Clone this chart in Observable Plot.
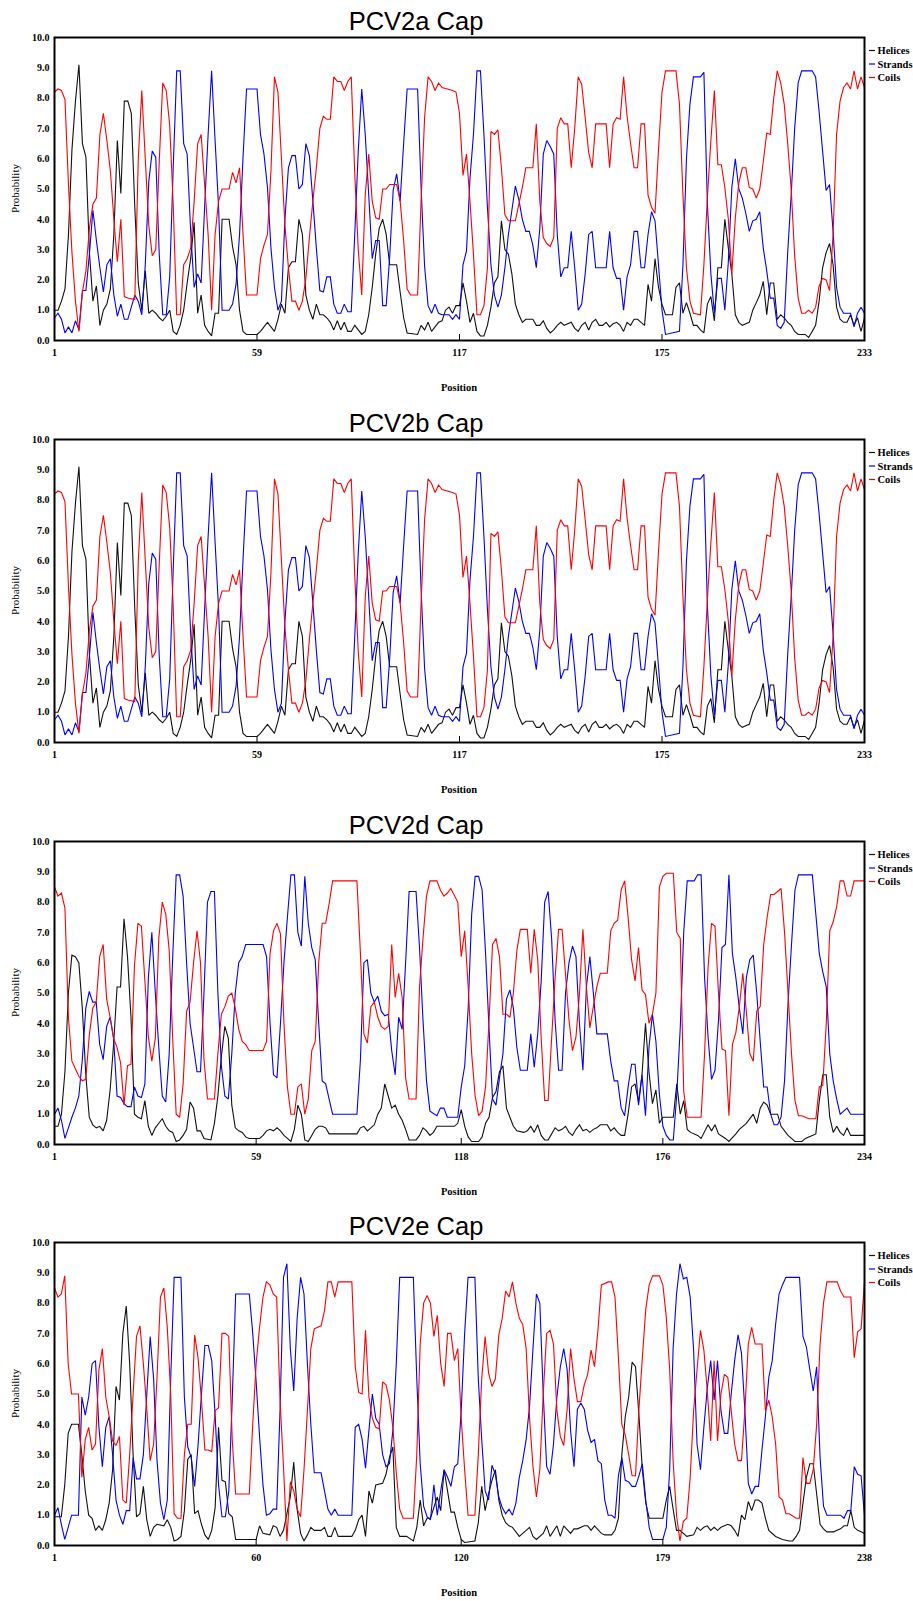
<!DOCTYPE html>
<html><head><meta charset="utf-8">
<script src="https://cdn.jsdelivr.net/npm/d3@7"></script>
<script src="https://cdn.jsdelivr.net/npm/@observablehq/plot@0.6"></script>
<style>
html,body{margin:0;padding:0;background:#fff;overflow:hidden;}
.panel{position:relative;width:913px;}
.panel svg.overlay{position:absolute;left:0;top:0;pointer-events:none;}
</style></head><body><div id="root"></div>
<script>
const titles = ["PCV2a Cap", "PCV2b Cap", "PCV2d Cap", "PCV2e Cap"];
const seriesNames = ["Helices", "Strands", "Coils"];
const seriesColors = ["#111111", "#0000ff", "#ff0000"];
const yTicks = [0,1,2,3,4,5,6,7,8,9,10];
const aTicks = [1,59,117,175,233];
const bTicks = [1,59,117,175,233];
const dTicks = [1,59,118,176,234];
const eTicks = [1,60,120,179,238];

// PCV2a
const aHelices = [[1,1.0],[2,1.0],[3,1.3],[4,1.7],[5,3.5],[6,6.3],[7,7.9],[8,9.1],[9,6.5],[10,6.05],[11,2.9],[12,1.3],[13,1.8],[14,0.5],[15,1.0],[16,1.2],[17,1.7],[18,3.5],[19,6.6],[20,4.85],[21,7.9],[22,7.9],[23,7.5],[24,4.4],[25,1.9],[26,1.0],[27,2.3],[28,0.9],[29,1.0],[30,0.9],[31,0.75],[32,0.65],[33,0.8],[34,1.0],[35,0.3],[36,0.2],[37,0.5],[38,1.0],[39,1.9],[40,2.7],[41,3.9],[42,0.9],[43,1.5],[44,0.5],[45,0.3],[46,0.15],[47,0.9],[48,0.9],[49,4.0],[50,4.0],[51,4.0],[52,3.1],[53,2.5],[54,1.0],[55,0.3],[56,0.2],[59,0.2],[60,0.3],[61,0.45],[62,0.6],[63,0.45],[64,0.3],[65,0.7],[66,1.2],[67,0.9],[68,2.4],[69,2.6],[70,2.6],[71,4.0],[72,3.5],[73,1.5],[74,1.0],[75,0.7],[76,1.2],[77,0.85],[78,0.85],[79,0.75],[80,0.6],[81,0.35],[82,0.65],[83,0.35],[84,0.6],[85,0.3],[86,0.3],[87,0.5],[88,0.35],[89,0.2],[90,0.3],[91,0.85],[92,1.75],[93,2.85],[94,3.7],[95,4.0],[96,3.5],[97,2.5],[99,2.5],[100,1.6],[101,0.75],[102,0.25],[105,0.2],[106,0.5],[107,0.35],[108,0.6],[109,0.3],[110,0.45],[111,0.6],[112,0.65],[113,1.0],[114,1.1],[115,0.9],[116,1.15],[117,1.15],[118,1.9],[119,1.3],[120,0.6],[121,0.9],[122,0.3],[123,0.15],[124,0.15],[125,0.5],[126,1.1],[127,1.9],[128,2.1],[129,3.95],[130,3.0],[131,2.85],[132,2.2],[133,1.2],[134,0.85],[135,0.6],[136,0.7],[138,0.7],[139,0.5],[140,0.5],[141,0.65],[142,0.4],[143,0.25],[144,0.35],[145,0.5],[146,0.6],[147,0.5],[148,0.55],[149,0.6],[150,0.4],[151,0.3],[152,0.5],[153,0.6],[154,0.35],[155,0.6],[156,0.7],[157,0.5],[158,0.5],[159,0.6],[160,0.45],[161,0.55],[162,0.6],[163,0.5],[164,0.3],[165,0.6],[166,0.5],[167,0.7],[168,0.7],[169,0.6],[170,0.5],[171,1.85],[172,1.3],[173,2.7],[174,1.75],[175,1.2],[176,0.85],[178,0.85],[179,1.75],[180,1.9],[181,0.9],[182,1.25],[183,0.9],[184,0.5],[185,0.5],[186,0.35],[187,0.25],[188,1.2],[189,1.45],[190,0.65],[191,2.4],[192,2.4],[193,4.0],[194,3.05],[195,2.2],[196,0.85],[197,0.6],[198,0.5],[199,0.55],[200,0.6],[201,1.0],[202,1.25],[203,1.5],[204,1.95],[205,0.85],[206,1.9],[207,1.9],[208,0.7],[209,0.85],[210,0.75],[211,0.6],[212,0.5],[213,0.3],[214,0.2],[216,0.2],[217,0.1],[218,0.3],[219,0.5],[220,1.3],[221,2.4],[222,2.9],[223,3.2],[224,2.5],[225,1.1],[226,0.7],[227,0.6],[228,0.6],[229,0.85],[230,0.5],[231,0.75],[232,0.3],[233,0.75]];
const aStrands = [[1,0.75],[2,0.9],[3,0.7],[4,0.25],[5,0.45],[6,0.25],[7,0.65],[8,0.35],[9,1.65],[10,1.65],[11,2.85],[12,4.3],[13,3.3],[14,2.4],[15,1.6],[16,2.5],[17,2.7],[18,1.5],[19,0.8],[20,1.2],[21,0.7],[22,0.7],[23,1.1],[24,1.5],[25,1.3],[26,0.85],[27,2.5],[28,5.25],[29,6.25],[30,6.05],[31,2.85],[32,0.85],[33,0.85],[34,2.1],[35,5.7],[36,8.9],[37,8.9],[38,6.5],[39,6.15],[40,3.6],[41,1.75],[42,2.2],[43,1.9],[44,4.4],[45,6.8],[46,8.9],[47,6.6],[48,4.4],[49,1.0],[51,1.0],[52,1.2],[53,1.85],[54,3.5],[55,6.05],[56,8.3],[59,8.3],[60,6.8],[61,6.15],[62,5.05],[63,3.05],[64,1.75],[65,1.0],[66,1.3],[67,4.0],[68,5.7],[69,6.1],[70,6.1],[71,5.0],[72,5.15],[73,6.5],[74,6.1],[75,4.6],[76,3.05],[77,1.65],[78,1.6],[79,2.1],[80,2.1],[81,1.2],[82,0.9],[83,0.9],[84,1.2],[85,0.95],[86,0.95],[87,3.5],[88,6.25],[89,8.3],[90,6.8],[91,4.8],[92,2.7],[93,3.3],[94,3.3],[95,1.15],[96,1.15],[97,2.75],[98,4.95],[99,5.5],[100,4.6],[101,6.5],[102,8.3],[105,8.3],[106,5.05],[107,2.45],[108,1.15],[109,0.9],[110,1.2],[111,0.9],[112,0.85],[114,0.85],[115,0.7],[116,0.85],[117,0.7],[118,2.5],[119,2.95],[120,5.35],[121,6.8],[122,8.9],[123,8.9],[124,6.8],[125,4.4],[126,2.5],[127,1.5],[128,1.1],[129,1.5],[130,2.4],[131,3.5],[132,4.3],[133,5.1],[134,4.65],[135,4.0],[136,3.6],[137,3.6],[138,3.15],[139,2.4],[140,3.7],[141,6.15],[142,6.6],[143,6.4],[144,6.15],[145,3.5],[146,2.1],[147,2.4],[148,2.4],[149,3.6],[150,2.4],[151,1.0],[152,1.2],[153,2.2],[154,3.5],[155,3.6],[156,2.4],[159,2.4],[160,3.6],[161,2.4],[162,2.05],[163,2.05],[164,1.0],[165,2.1],[166,2.5],[167,3.6],[168,3.6],[169,2.4],[170,2.4],[171,3.5],[172,4.25],[173,3.95],[174,2.5],[175,1.0],[176,0.2],[180,0.3],[181,2.5],[182,6.0],[183,7.8],[184,8.7],[186,8.7],[187,8.85],[188,4.5],[189,2.2],[190,0.9],[191,2.05],[192,2.05],[193,1.0],[194,2.6],[195,5.05],[196,6.0],[197,5.0],[198,4.7],[199,4.2],[200,3.6],[201,3.95],[202,4.0],[203,4.25],[204,3.05],[205,2.3],[206,1.4],[207,1.4],[208,0.5],[209,0.4],[210,0.6],[211,2.9],[212,4.8],[213,7.0],[214,8.5],[215,8.9],[218,8.9],[219,8.7],[220,7.55],[221,6.25],[222,4.95],[223,5.15],[224,3.6],[225,1.75],[226,1.1],[227,0.9],[229,0.9],[230,0.45],[231,0.9],[232,1.1],[233,0.9]];
const aCoils = [[1,8.2],[2,8.3],[3,8.25],[4,7.95],[5,5.15],[6,2.9],[7,1.3],[8,0.3],[9,1.6],[10,2.3],[11,3.7],[12,4.5],[13,4.7],[14,6.8],[15,7.5],[16,6.6],[17,5.6],[18,4.0],[19,2.6],[20,4.0],[21,1.45],[22,1.4],[24,1.35],[25,6.0],[26,8.25],[27,6.0],[28,3.8],[29,2.8],[30,3.0],[31,5.9],[32,8.5],[33,8.25],[34,7.1],[35,4.5],[36,0.85],[37,0.85],[38,2.5],[39,2.7],[40,3.05],[41,4.6],[42,6.5],[43,6.8],[44,5.15],[45,3.5],[46,1.0],[47,3.5],[48,4.6],[49,5.0],[51,5.0],[52,5.55],[53,5.2],[54,5.7],[55,3.5],[56,1.5],[59,1.5],[60,2.7],[61,3.15],[62,3.5],[63,5.6],[64,8.7],[65,8.2],[66,6.0],[67,3.8],[68,2.4],[69,1.3],[70,1.3],[71,1.0],[72,1.3],[73,2.05],[74,3.4],[75,4.6],[76,5.7],[77,7.0],[78,7.4],[79,7.3],[80,7.3],[81,8.7],[82,8.55],[83,8.55],[84,8.25],[85,8.55],[86,8.7],[87,5.5],[88,3.0],[89,1.5],[90,4.8],[91,6.15],[92,4.6],[93,4.05],[94,4.0],[95,5.0],[96,5.0],[97,5.15],[99,5.15],[100,4.6],[101,3.3],[102,1.7],[103,1.5],[105,1.5],[106,4.6],[107,7.35],[108,8.7],[109,8.55],[110,8.25],[111,8.5],[112,8.35],[115,8.25],[116,8.2],[117,7.5],[118,5.45],[119,6.15],[120,4.6],[121,2.85],[122,0.85],[123,0.85],[124,1.15],[125,2.4],[126,6.9],[127,6.8],[128,6.95],[129,5.7],[130,4.15],[131,3.95],[133,3.95],[134,4.5],[135,5.05],[136,5.7],[138,5.7],[139,7.15],[140,4.6],[141,3.4],[142,3.2],[143,3.1],[144,3.4],[145,7.0],[146,7.35],[147,7.15],[148,7.15],[149,5.7],[150,7.0],[151,8.7],[152,8.45],[153,7.35],[154,6.2],[155,5.7],[156,7.15],[159,7.15],[160,5.7],[161,7.15],[162,7.35],[163,7.3],[164,8.7],[165,7.4],[166,6.5],[167,5.7],[168,5.7],[169,7.15],[170,7.15],[171,4.8],[172,4.4],[173,4.2],[174,6.3],[175,8.2],[176,8.9],[179,8.9],[180,7.8],[181,4.8],[182,2.4],[183,1.3],[184,0.9],[186,0.85],[187,2.5],[188,4.7],[189,6.6],[190,8.25],[191,5.8],[192,5.8],[193,5.05],[194,4.0],[195,2.2],[196,4.05],[197,5.2],[198,5.7],[199,5.7],[200,5.05],[201,5.0],[202,4.7],[203,5.0],[204,5.9],[205,6.85],[206,6.8],[207,8.0],[208,8.9],[209,8.5],[210,7.8],[211,6.5],[212,5.0],[213,2.8],[214,1.4],[215,0.9],[216,0.9],[217,1.0],[218,0.9],[219,1.1],[220,1.8],[221,2.05],[222,2.0],[223,1.65],[224,3.5],[225,6.8],[226,7.9],[227,8.35],[228,8.5],[229,8.3],[230,8.9],[231,8.3],[232,8.7],[233,8.35]];

// PCV2b (the profile in the picture is the same as PCV2a)
const bHelices = aHelices.map(d => d.slice());
const bStrands = aStrands.map(d => d.slice());
const bCoils = aCoils.map(d => d.slice());

// PCV2d
const dHelices = [[1,0.6],[2,0.6],[3,1.0],[4,2.4],[5,5.0],[6,6.25],[7,6.2],[8,6.0],[9,4.5],[10,2.3],[11,0.9],[12,0.65],[13,0.55],[14,0.6],[15,0.45],[16,0.8],[17,1.8],[18,3.3],[19,5.2],[20,5.2],[21,7.45],[22,6.2],[23,4.2],[24,1.0],[25,0.9],[26,0.85],[27,1.45],[28,0.6],[29,0.3],[30,0.55],[31,0.7],[32,0.85],[33,0.6],[34,0.45],[35,0.4],[36,0.1],[37,0.15],[38,0.3],[39,0.5],[40,1.4],[41,1.2],[42,0.45],[43,0.45],[44,0.2],[46,0.15],[47,0.7],[48,1.6],[49,2.9],[50,3.9],[51,3.5],[52,1.3],[53,0.55],[54,0.45],[55,0.4],[56,0.25],[57,0.2],[60,0.2],[61,0.3],[62,0.45],[63,0.5],[64,0.45],[65,0.55],[66,0.45],[67,0.3],[68,0.2],[69,0.1],[70,0.5],[71,1.3],[72,1.0],[73,0.15],[74,0.1],[75,0.3],[76,0.5],[77,0.6],[78,0.6],[79,0.55],[80,0.35],[88,0.35],[89,0.55],[90,0.6],[91,0.45],[92,0.55],[93,0.65],[94,1.0],[95,1.2],[96,2.0],[97,1.6],[98,1.2],[99,1.3],[100,1.0],[101,0.8],[102,0.5],[103,0.15],[105,0.15],[106,0.3],[107,0.55],[108,0.45],[109,0.3],[110,0.4],[111,0.6],[116,0.6],[117,0.7],[118,1.15],[119,0.6],[120,0.25],[121,0.1],[123,0.1],[124,0.25],[125,0.7],[126,0.9],[127,1.55],[128,1.75],[129,2.4],[130,2.6],[131,1.2],[132,0.9],[133,0.6],[134,0.45],[136,0.4],[137,0.45],[138,0.6],[139,0.4],[140,0.65],[141,0.3],[142,0.15],[143,0.15],[144,0.35],[145,0.55],[146,0.45],[147,0.5],[148,0.6],[149,0.4],[150,0.3],[151,0.5],[152,0.65],[153,0.45],[154,0.5],[155,0.4],[156,0.5],[157,0.55],[158,0.65],[160,0.65],[161,0.45],[162,0.55],[163,0.4],[164,0.3],[165,0.3],[166,1.0],[167,1.9],[168,2.0],[169,1.4],[170,2.3],[171,4.0],[172,2.4],[173,1.35],[174,1.8],[175,0.7],[176,0.9],[179,0.9],[180,2.0],[181,1.0],[182,1.45],[183,0.5],[184,0.4],[186,0.3],[187,0.2],[189,0.65],[190,0.45],[191,0.65],[192,0.35],[194,0.2],[195,0.1],[197,0.35],[198,0.5],[200,0.7],[202,1.0],[203,0.7],[204,1.2],[205,1.4],[206,1.3],[207,1.0],[209,1.0],[210,0.6],[212,0.3],[213,0.2],[214,0.1],[216,0.1],[217,0.2],[219,0.3],[220,0.35],[221,1.45],[222,2.3],[223,2.3],[224,0.9],[225,0.4],[226,0.6],[227,0.4],[228,0.3],[229,0.55],[230,0.3],[234,0.3]];
const dStrands = [[1,1.0],[2,1.2],[3,0.8],[4,0.2],[5,0.55],[6,0.9],[7,1.2],[8,1.6],[9,2.8],[10,4.5],[11,5.05],[12,4.7],[13,4.7],[14,3.3],[15,2.8],[16,3.9],[17,4.2],[18,3.5],[19,1.6],[20,1.55],[21,1.35],[22,1.25],[23,1.25],[24,1.9],[25,1.6],[26,1.55],[27,2.0],[28,5.5],[29,7.0],[30,5.0],[31,3.2],[32,1.6],[33,1.4],[34,3.0],[35,6.2],[36,8.9],[37,8.9],[38,8.2],[39,6.0],[40,4.0],[41,3.2],[42,2.4],[43,2.4],[44,5.0],[45,8.0],[46,8.35],[47,8.35],[48,5.0],[49,2.6],[50,1.6],[51,1.5],[52,3.0],[53,5.0],[54,6.0],[55,6.2],[56,6.6],[61,6.6],[62,6.2],[63,4.0],[64,2.3],[65,2.2],[66,4.0],[67,6.0],[68,7.5],[69,8.9],[70,8.9],[71,7.0],[72,6.55],[73,8.85],[74,7.3],[75,6.5],[76,6.1],[77,4.0],[78,2.1],[79,2.0],[80,1.5],[81,1.0],[88,1.0],[89,2.8],[90,6.0],[91,6.1],[92,5.0],[93,4.7],[94,4.9],[95,4.4],[96,4.25],[97,4.3],[98,3.1],[99,2.3],[100,4.2],[101,3.8],[102,6.0],[103,8.35],[105,8.35],[106,6.5],[107,4.1],[108,2.1],[109,1.1],[111,0.95],[112,1.2],[113,1.2],[114,0.9],[117,0.9],[118,1.9],[119,2.6],[120,4.5],[121,7.6],[122,8.85],[123,8.85],[124,8.4],[125,6.3],[126,3.8],[127,1.5],[128,1.3],[129,2.2],[130,3.0],[131,4.8],[132,5.1],[133,4.5],[134,3.2],[135,2.45],[137,2.45],[138,3.65],[139,2.55],[140,3.65],[141,5.4],[142,8.0],[143,8.35],[144,6.8],[145,4.1],[146,2.45],[147,2.45],[148,5.0],[149,6.0],[150,6.55],[151,6.2],[152,4.0],[153,2.45],[154,5.2],[155,6.2],[156,5.0],[157,3.65],[160,3.65],[161,2.75],[162,2.1],[163,2.1],[164,1.2],[165,0.95],[166,1.9],[167,2.65],[168,2.65],[169,1.3],[170,2.3],[171,0.95],[172,3.2],[173,4.3],[174,3.4],[175,1.65],[176,0.6],[177,0.3],[178,0.15],[179,0.15],[180,1.65],[181,3.85],[182,7.0],[183,8.7],[185,8.7],[186,8.9],[187,8.9],[188,5.5],[189,3.55],[190,2.15],[191,2.45],[192,4.1],[193,6.5],[194,6.6],[195,8.9],[196,6.3],[197,5.5],[198,4.5],[199,3.65],[200,5.5],[201,6.1],[202,6.25],[203,5.0],[204,3.4],[205,1.9],[206,1.9],[207,1.0],[208,0.65],[209,0.65],[210,0.9],[211,2.1],[212,4.65],[213,6.6],[214,8.4],[215,8.9],[219,8.9],[220,7.6],[221,6.3],[222,5.7],[223,5.2],[224,3.0],[225,2.1],[226,1.5],[227,1.0],[228,1.1],[229,1.2],[230,1.0],[234,1.0]];
const dCoils = [[1,8.5],[2,8.2],[3,8.3],[4,7.8],[5,4.2],[6,2.75],[7,2.5],[8,2.25],[9,2.1],[10,2.15],[11,3.6],[12,4.5],[13,4.7],[14,6.2],[15,6.6],[16,4.8],[17,4.2],[18,3.5],[19,3.2],[20,2.7],[21,1.3],[22,2.6],[23,2.65],[24,5.9],[25,7.3],[26,7.2],[27,5.4],[28,3.55],[29,2.75],[30,3.5],[31,6.8],[32,8.0],[33,7.6],[34,6.4],[35,3.5],[36,1.0],[37,0.9],[38,2.0],[39,4.4],[40,4.7],[41,6.0],[42,7.05],[43,6.0],[44,2.8],[45,1.5],[47,1.5],[48,3.0],[49,4.3],[50,4.55],[51,4.9],[52,5.0],[53,4.5],[54,3.8],[55,3.4],[56,3.3],[57,3.1],[61,3.1],[62,3.4],[63,6.3],[64,7.05],[65,7.3],[66,6.95],[67,4.0],[68,1.9],[69,1.0],[70,1.0],[71,1.9],[72,2.0],[73,1.0],[74,1.5],[75,3.1],[76,3.4],[77,6.0],[78,7.3],[79,7.3],[80,7.95],[81,8.7],[88,8.7],[89,6.3],[90,3.65],[91,3.35],[92,4.55],[93,4.7],[94,4.2],[95,3.9],[96,3.8],[97,3.9],[98,6.6],[99,4.85],[100,5.65],[101,4.85],[102,2.2],[103,1.5],[105,1.5],[106,5.2],[107,6.8],[108,8.2],[109,8.7],[111,8.7],[112,8.4],[113,8.2],[114,8.3],[115,8.45],[117,8.0],[118,6.2],[119,7.05],[120,5.2],[121,3.0],[122,1.6],[123,0.95],[124,1.1],[125,1.9],[126,4.1],[127,6.6],[128,6.8],[129,6.2],[130,4.3],[131,4.3],[132,4.2],[133,5.0],[134,6.4],[135,7.1],[137,7.1],[138,5.65],[139,7.1],[140,6.1],[141,3.5],[142,1.45],[143,1.45],[144,3.5],[145,5.5],[146,7.1],[147,7.1],[148,5.6],[149,4.1],[150,3.1],[151,3.55],[152,4.95],[153,7.1],[154,5.2],[155,3.85],[156,4.55],[157,5.2],[158,5.65],[160,5.65],[161,7.05],[162,7.3],[163,7.4],[164,8.4],[165,8.7],[166,7.5],[167,6.1],[168,5.4],[169,6.5],[170,5.1],[171,4.95],[172,4.0],[173,4.3],[174,5.0],[175,8.5],[176,8.85],[177,8.95],[179,8.95],[180,7.0],[181,6.8],[182,1.75],[183,0.9],[187,0.9],[188,3.0],[189,5.85],[190,7.3],[191,7.2],[192,5.0],[193,3.15],[194,3.1],[195,0.95],[196,3.3],[197,3.7],[198,4.55],[199,5.65],[200,4.4],[201,3.0],[202,2.75],[203,4.4],[204,4.55],[205,6.6],[206,7.5],[207,8.25],[208,8.25],[209,8.35],[210,8.45],[211,7.0],[212,5.0],[213,3.0],[214,1.45],[215,0.95],[216,0.95],[218,0.85],[220,0.85],[221,1.9],[222,1.95],[223,4.0],[224,7.05],[225,7.35],[226,7.85],[227,8.7],[228,8.7],[229,8.2],[230,8.2],[231,8.7],[234,8.7]];

// PCV2e
const eHelices = [[1,0.95],[3,0.95],[4,2.0],[5,3.7],[6,4.0],[8,4.0],[9,3.0],[10,1.8],[11,1.0],[12,0.9],[13,0.5],[14,0.65],[15,0.5],[16,0.85],[17,1.4],[18,2.5],[19,5.25],[20,4.8],[21,7.0],[22,7.9],[23,6.0],[24,3.0],[25,0.95],[26,1.05],[27,1.95],[28,0.85],[29,0.3],[30,0.6],[31,0.7],[33,0.65],[34,0.85],[35,0.6],[36,0.15],[37,0.2],[38,0.3],[39,1.15],[40,2.85],[41,3.0],[42,1.05],[43,1.15],[44,0.7],[45,0.35],[46,0.2],[47,0.5],[48,1.25],[49,3.9],[50,2.15],[51,2.1],[52,1.05],[53,0.95],[54,0.2],[60,0.2],[61,0.65],[62,0.4],[64,0.35],[65,0.65],[66,0.6],[67,0.3],[68,0.5],[70,1.6],[71,2.75],[72,1.2],[73,0.4],[74,0.15],[75,0.35],[76,0.6],[77,0.5],[79,0.5],[80,0.6],[81,0.3],[82,0.3],[83,0.6],[84,0.3],[88,0.3],[89,0.5],[90,0.85],[91,1.0],[92,0.3],[93,1.8],[94,1.4],[95,2.0],[97,2.05],[98,2.35],[99,2.9],[100,3.25],[101,0.6],[102,0.3],[104,0.3],[106,0.15],[107,0.6],[108,1.5],[109,0.65],[110,0.9],[111,0.9],[113,1.6],[114,1.15],[115,2.5],[116,1.8],[117,1.1],[118,1.1],[119,0.6],[120,0.2],[121,0.1],[124,0.15],[125,0.75],[126,1.95],[127,1.15],[128,1.7],[129,2.15],[130,2.5],[131,1.5],[132,1.0],[133,0.75],[134,0.65],[135,0.6],[137,0.3],[138,0.4],[139,0.5],[140,0.6],[141,0.3],[142,0.2],[144,0.4],[145,0.65],[146,0.3],[148,0.65],[149,0.3],[150,0.65],[152,0.4],[153,0.55],[154,0.55],[156,0.65],[157,0.65],[158,0.5],[159,0.65],[161,0.4],[162,0.35],[164,0.35],[165,0.5],[166,0.9],[167,3.0],[168,4.25],[169,4.9],[170,6.05],[171,5.9],[172,4.3],[173,2.5],[174,1.4],[175,0.9],[179,0.9],[180,1.5],[181,1.95],[182,1.2],[183,0.5],[184,0.5],[186,0.3],[188,0.35],[189,0.6],[190,0.5],[191,0.6],[192,0.65],[193,0.5],[194,0.6],[195,0.5],[196,0.6],[197,0.65],[198,0.7],[199,0.65],[200,0.5],[201,0.3],[202,1.0],[203,0.85],[204,1.45],[205,1.15],[206,1.5],[207,1.5],[208,1.4],[209,0.9],[210,0.5],[212,0.3],[214,0.2],[216,0.15],[217,0.15],[218,0.3],[219,0.5],[220,1.4],[221,2.25],[222,2.7],[223,2.7],[224,1.7],[225,0.7],[226,0.55],[227,0.45],[229,0.45],[230,0.5],[231,0.55],[232,0.65],[233,0.65],[234,1.15],[235,0.6],[236,0.5],[237,0.45],[238,0.4]];
const eStrands = [[1,1.0],[2,1.25],[3,0.7],[4,0.2],[5,0.6],[6,1.0],[8,1.0],[9,4.9],[10,4.3],[11,4.9],[12,6.0],[13,6.1],[14,3.9],[15,2.6],[16,3.9],[17,4.25],[18,3.0],[19,1.5],[20,1.0],[21,0.7],[22,1.15],[23,1.15],[24,2.9],[25,2.2],[26,2.2],[27,3.0],[28,5.0],[29,6.9],[30,5.5],[31,2.8],[32,1.4],[33,0.85],[34,1.5],[35,5.5],[36,8.85],[38,8.85],[39,4.9],[40,3.25],[41,2.9],[42,1.95],[43,3.3],[44,5.0],[45,6.6],[46,6.6],[47,6.1],[48,4.3],[49,2.0],[50,0.95],[51,0.95],[52,1.8],[53,4.8],[54,8.3],[58,8.3],[59,7.0],[60,5.4],[61,3.6],[62,2.0],[63,1.0],[64,1.05],[65,1.2],[66,1.2],[67,4.5],[68,8.85],[69,9.3],[70,6.5],[71,5.1],[72,7.5],[73,8.85],[74,8.3],[75,6.0],[76,4.0],[77,2.4],[79,2.4],[80,1.8],[81,1.2],[82,1.0],[83,1.2],[84,1.0],[88,1.0],[89,3.9],[90,4.0],[91,3.5],[92,2.55],[93,3.8],[94,5.0],[95,4.2],[96,4.0],[97,3.0],[98,2.6],[99,2.7],[100,3.8],[101,6.0],[102,8.85],[106,8.85],[107,5.5],[108,2.7],[109,1.3],[110,0.95],[111,0.85],[112,2.0],[113,1.0],[114,1.8],[115,2.5],[116,2.25],[117,1.95],[118,2.6],[119,2.7],[120,4.45],[121,7.0],[122,8.85],[124,8.85],[125,5.5],[126,3.5],[127,1.8],[128,1.5],[129,2.65],[130,2.35],[131,1.6],[132,1.25],[133,1.05],[134,1.2],[135,1.0],[136,1.4],[137,2.25],[138,2.8],[139,3.5],[140,4.6],[141,6.5],[142,8.3],[143,8.0],[144,5.0],[145,2.6],[146,2.35],[147,3.35],[148,4.9],[149,5.9],[150,6.5],[151,5.8],[152,3.8],[153,2.6],[154,4.5],[155,4.7],[156,4.5],[157,3.8],[158,3.4],[159,3.5],[160,2.8],[161,2.7],[162,1.5],[163,1.0],[164,1.0],[165,0.9],[166,2.3],[167,2.9],[168,2.15],[169,2.1],[170,1.95],[171,1.95],[172,2.3],[173,2.7],[174,1.5],[175,0.6],[176,0.2],[179,0.2],[180,0.6],[181,2.5],[182,6.5],[183,8.3],[184,9.3],[185,8.8],[186,8.85],[187,8.2],[188,6.45],[189,3.35],[190,2.5],[191,3.9],[192,5.2],[193,6.1],[194,4.8],[195,6.1],[196,4.45],[197,3.7],[198,3.7],[199,5.0],[200,6.1],[201,6.95],[202,6.35],[203,4.45],[204,2.05],[205,1.7],[206,1.95],[207,1.95],[208,3.15],[209,4.25],[210,5.55],[211,6.1],[212,7.3],[213,8.3],[214,8.6],[215,8.85],[219,8.85],[220,6.9],[221,6.55],[222,5.8],[223,5.1],[224,5.9],[225,2.9],[226,1.3],[227,1.0],[231,1.0],[232,0.9],[233,1.15],[234,1.15],[235,2.6],[236,2.35],[237,2.3],[238,1.0]];
const eCoils = [[1,8.5],[2,8.2],[3,8.3],[4,8.9],[5,6.0],[6,5.0],[8,5.0],[9,2.25],[10,3.5],[11,3.9],[12,3.15],[13,3.35],[14,5.8],[15,6.5],[16,4.9],[17,4.25],[18,3.45],[19,3.3],[20,3.6],[21,1.5],[22,1.4],[23,3.0],[24,5.0],[25,6.9],[26,7.25],[27,6.0],[28,4.5],[29,2.8],[30,3.35],[31,5.55],[32,8.2],[33,8.5],[34,7.2],[35,5.0],[36,1.05],[37,0.9],[38,0.9],[39,3.0],[40,4.0],[41,4.0],[42,6.95],[43,6.2],[44,4.8],[45,3.15],[46,3.15],[47,3.1],[48,4.45],[49,4.55],[50,7.0],[51,7.0],[52,6.9],[53,3.5],[54,1.7],[58,1.7],[59,4.0],[60,6.0],[61,7.2],[62,8.2],[63,8.7],[64,8.6],[65,8.3],[66,8.2],[67,4.8],[68,2.6],[69,0.15],[70,2.1],[71,1.8],[72,1.2],[73,0.95],[74,2.5],[75,4.45],[76,6.5],[77,7.15],[79,7.25],[80,7.75],[81,8.7],[82,8.7],[83,8.2],[84,8.7],[88,8.7],[89,5.9],[90,5.05],[91,5.0],[92,7.1],[93,4.9],[94,4.2],[95,3.9],[96,3.85],[97,5.4],[98,5.3],[99,4.8],[100,3.9],[101,2.4],[102,1.2],[103,0.9],[106,0.9],[107,3.0],[108,6.65],[109,8.0],[110,8.25],[111,8.0],[112,6.9],[113,7.6],[114,6.0],[115,5.25],[116,7.0],[117,7.0],[118,6.1],[119,6.5],[120,4.2],[121,2.5],[122,1.0],[124,1.0],[125,3.0],[126,5.5],[127,6.9],[128,5.7],[129,5.25],[130,5.5],[131,6.95],[132,7.5],[133,8.4],[134,8.2],[135,8.7],[136,8.0],[137,7.5],[138,7.3],[139,6.5],[140,4.2],[141,2.6],[142,1.6],[143,2.5],[144,5.0],[145,7.0],[146,7.1],[147,6.65],[148,4.45],[149,3.6],[150,3.3],[151,4.5],[152,6.5],[153,5.5],[154,4.75],[155,4.75],[156,5.3],[157,5.65],[158,6.45],[159,5.9],[160,7.1],[161,8.6],[163,8.7],[164,8.7],[165,8.2],[166,6.2],[167,4.0],[168,3.65],[169,3.0],[170,2.3],[171,2.3],[172,4.5],[173,6.2],[174,7.8],[175,8.6],[176,8.9],[178,8.9],[179,8.6],[180,7.55],[181,5.8],[182,2.8],[183,1.0],[184,0.15],[185,0.8],[186,0.9],[187,2.25],[188,4.45],[189,5.8],[190,7.1],[191,6.45],[192,5.1],[193,3.45],[194,6.1],[195,3.45],[196,5.0],[197,5.65],[198,5.55],[199,4.45],[200,3.35],[201,2.8],[202,2.8],[203,4.45],[204,6.65],[205,7.2],[206,6.65],[208,6.65],[209,4.45],[210,4.8],[211,4.25],[212,3.35],[213,1.6],[214,1.5],[215,1.05],[216,1.05],[218,0.9],[219,0.9],[220,2.9],[221,2.05],[222,2.05],[223,2.5],[224,4.0],[225,6.65],[226,8.0],[227,8.7],[230,8.7],[231,8.4],[232,8.2],[234,8.2],[235,6.2],[236,7.05],[237,7.15],[238,8.7]];

const panels = [
  {title: titles[0], ticks: aTicks, series: [aHelices, aStrands, aCoils], height: 402},
  {title: titles[1], ticks: bTicks, series: [bHelices, bStrands, bCoils], height: 402},
  {title: titles[2], ticks: dTicks, series: [dHelices, dStrands, dCoils], height: 401},
  {title: titles[3], ticks: eTicks, series: [eHelices, eStrands, eCoils], height: 396}
];

const W = 913, MT = 37, PH = 303, ML = 54, MR = 49;
const serif = "'Liberation Serif','Times New Roman',serif";
const sans = "'Liberation Sans',Arial,sans-serif";
const root = document.getElementById("root");

for (const p of panels) {
  const n = p.ticks[p.ticks.length - 1];
  const rows = [];
  p.series.forEach((arr, i) => arr.forEach(([pos, v]) => rows.push({pos, v, s: seriesNames[i]})));
  const chart = Plot.plot({
    width: W, height: p.height,
    marginTop: MT, marginBottom: p.height - MT - PH, marginLeft: ML, marginRight: MR,
    style: {fontFamily: serif, fontSize: "10px", background: "#fff", color: "#000", overflow: "visible"},
    x: {domain: [1, n]},
    y: {domain: [0, 10]},
    color: {domain: seriesNames, range: seriesColors},
    marks: [
      Plot.line(rows, {x: "pos", y: "v", z: "s", stroke: "s", strokeWidth: 1.1, strokeLinejoin: "miter", strokeMiterlimit: 2}),
      Plot.frame({stroke: "#000", strokeWidth: 2}),
      Plot.axisY(yTicks, {tickSize: 0, tickPadding: 5, tickFormat: d => d.toFixed(1), fontWeight: "bold", fontSize: 10, label: null}),
      Plot.axisX(p.ticks, {tickSize: -6, tickPadding: 14, tickFormat: d => String(d), fontWeight: "bold", fontSize: 10, label: null})
    ]
  });
  const div = document.createElement("div");
  div.className = "panel";
  div.style.height = p.height + "px";
  div.appendChild(chart);
  const ov = d3.create("svg").attr("class", "overlay").attr("width", W).attr("height", p.height);
  ov.append("text").attr("x", 416).attr("y", 30).attr("text-anchor", "middle")
    .attr("font-family", sans).attr("font-size", 25.5).attr("fill", "#000").text(p.title);
  ov.append("text").attr("transform", `translate(15,${MT + PH / 2}) rotate(-90)`)
    .attr("text-anchor", "middle").attr("dominant-baseline", "central")
    .attr("font-family", serif).attr("font-size", 11).attr("fill", "#000").text("Probability");
  ov.append("text").attr("x", (ML + W - MR) / 2).attr("y", MT + PH + 51).attr("text-anchor", "middle")
    .attr("font-family", serif).attr("font-size", 10.5).attr("font-weight", "bold").attr("fill", "#000").text("Position");
  seriesNames.forEach((name, i) => {
    const cy = MT + 13.5 + i * 13.5;
    ov.append("line").attr("x1", 869).attr("x2", 875).attr("y1", cy).attr("y2", cy)
      .attr("stroke", seriesColors[i]).attr("stroke-width", 1.2);
    ov.append("text").attr("x", 877.5).attr("y", cy).attr("dominant-baseline", "central")
      .attr("font-family", serif).attr("font-size", 10.5).attr("font-weight", "bold").attr("fill", "#000").text(name);
  });
  div.appendChild(ov.node());
  root.appendChild(div);
}
</script>
</body></html>
